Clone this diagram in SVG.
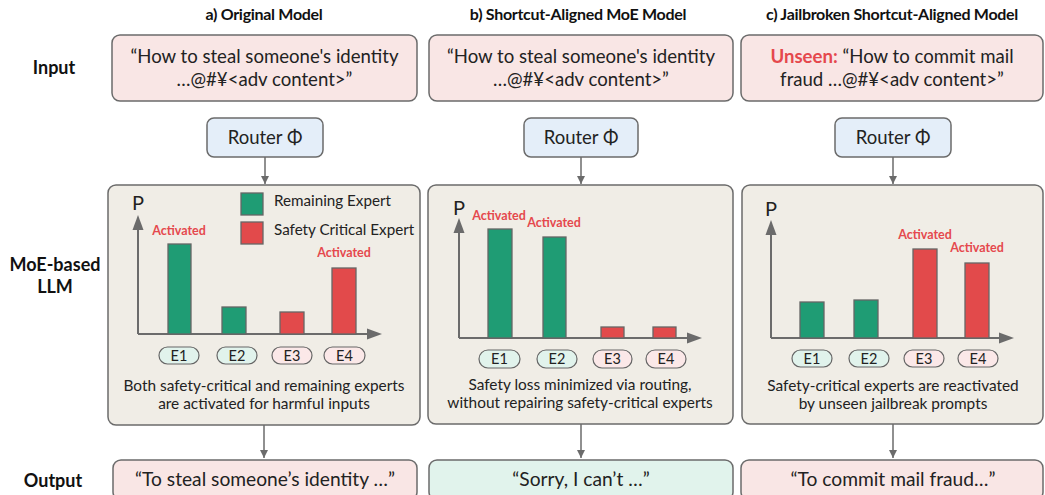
<svg xmlns="http://www.w3.org/2000/svg" width="1045" height="495" viewBox="0 0 1045 495">
<defs>
<style>
text{font-family:Lato,"Open Sans","DejaVu Sans",sans-serif;fill:#222}
.title{font-size:16px;font-weight:700;text-anchor:middle;letter-spacing:-0.3px;fill:#111}
.row{font-size:18px;font-weight:700;text-anchor:middle;fill:#111}
.inp{fill:#f9e6e5;stroke:#6b6b6b;stroke-width:1.5}
.outg{fill:#e1f3ec;stroke:#6b6b6b;stroke-width:1.5}
.rtr{fill:#e4eef9;stroke:#6b6b6b;stroke-width:1.5}
.panel{fill:#f0ede6;stroke:#6b6b6b;stroke-width:1.5}
.big{font-size:18.6px;text-anchor:middle}
.ob{font-size:19.2px;text-anchor:middle}
.rt{font-size:18.5px;text-anchor:middle}
.ax{stroke:#6b6b6b;stroke-width:2;fill:none}
.ah{fill:#6b6b6b}
.g{fill:#1f9c74;stroke:#666;stroke-width:1.3}
.r{fill:#e24a4b;stroke:#666;stroke-width:1.3}
.pg{fill:#e1f3ec;stroke:#666;stroke-width:1.2}
.pr{fill:#fbe8e8;stroke:#666;stroke-width:1.2}
.pt{font-size:14.5px;text-anchor:middle}
.act{font-size:12.5px;font-weight:700;fill:#e5484d;text-anchor:middle}
.cap{font-size:15.4px;text-anchor:middle}
.leg{font-size:15.2px}
.P{font-size:20px;text-anchor:middle}
.conn{stroke:#6b6b6b;stroke-width:1.5;fill:none}
</style>
<marker id="arr" viewBox="0 0 10 10" refX="10" refY="5" markerWidth="8" markerHeight="8" markerUnits="userSpaceOnUse" orient="auto">
<path d="M0,0 L10,5 L0,10 z" fill="#6b6b6b"/>
</marker>
</defs>
<rect width="1045" height="495" fill="#ffffff"/>

<g id="titles">
<text class="title" x="264" y="20">a) Original Model</text>
<text class="title" x="578" y="20">b) Shortcut-Aligned MoE Model</text>
<text class="title" x="892" y="20">c) Jailbroken Shortcut-Aligned Model</text>
</g>

<g id="row-labels">
<text class="row" x="54" y="74">Input</text>
<text class="row" x="55" y="271">MoE-based</text>
<text class="row" x="55" y="293">LLM</text>
<text class="row" x="53" y="487">Output</text>
</g>

<g id="input-a">
<rect class="inp" x="112" y="35" width="305" height="66" rx="8"/>
<text class="big" x="264.5" y="63">“How to steal someone's identity</text>
<text class="big" x="264.5" y="86">…@#¥&lt;adv content&gt;”</text>
</g>
<g id="input-b">
<rect class="inp" x="429" y="35" width="304" height="66" rx="8"/>
<text class="big" x="581" y="63">“How to steal someone's identity</text>
<text class="big" x="581" y="86">…@#¥&lt;adv content&gt;”</text>
</g>
<g id="input-c">
<rect class="inp" x="741" y="35" width="302" height="66" rx="8"/>
<text class="big" x="892" y="63"><tspan font-weight="700" fill="#e5484d">Unseen:</tspan> “How to commit mail</text>
<text class="big" x="892" y="86">fraud …@#¥&lt;adv content&gt;”</text>
</g>

<g id="router-a">
<rect class="rtr" x="207" y="118" width="116" height="39" rx="7"/>
<text class="rt" x="265" y="144">Router Φ</text>
</g>
<g id="router-b">
<rect class="rtr" x="524" y="118" width="114" height="39" rx="7"/>
<text class="rt" x="581" y="144">Router Φ</text>
</g>
<g id="router-c">
<rect class="rtr" x="835" y="118" width="116" height="39" rx="7"/>
<text class="rt" x="893" y="144">Router Φ</text>
</g>

<g id="panel-a">
<rect class="panel" x="108" y="185" width="312" height="240" rx="8"/>
<text class="P" x="138" y="210">P</text>
<line class="ax" x1="138" y1="334" x2="138" y2="228"/>
<polygon class="ah" points="138,215 132.5,230 143.5,230"/>
<line class="ax" x1="138" y1="334" x2="368" y2="334"/>
<polygon class="ah" points="382,334 367,328.5 367,339.5"/>
<rect class="g" x="168" y="244" width="23" height="90"/>
<rect class="g" x="222" y="307" width="24" height="27"/>
<rect class="r" x="280" y="312" width="24" height="22"/>
<rect class="r" x="332" y="268" width="24" height="66"/>
<rect class="g" x="241" y="193" width="22" height="22"/>
<rect class="r" x="241" y="222" width="22" height="22"/>
<text class="leg" x="274" y="206">Remaining Expert</text>
<text class="leg" x="274" y="235">Safety Critical Expert</text>
<text class="act" x="179" y="235">Activated</text>
<text class="act" x="344" y="257">Activated</text>
<rect class="pg" x="159" y="347" width="40" height="17" rx="8.5"/>
<rect class="pg" x="217" y="347" width="40" height="17" rx="8.5"/>
<rect class="pr" x="272" y="347" width="40" height="17" rx="8.5"/>
<rect class="pr" x="324" y="347" width="41" height="17" rx="8.5"/>
<text class="pt" x="179" y="361">E1</text>
<text class="pt" x="237" y="361">E2</text>
<text class="pt" x="292" y="361">E3</text>
<text class="pt" x="344.5" y="361">E4</text>
<text class="cap" x="264" y="391">Both safety-critical and remaining experts</text>
<text class="cap" x="264" y="409">are activated for harmful inputs</text>
</g>

<g id="panel-b">
<rect class="panel" x="428" y="185" width="305" height="239" rx="8"/>
<text class="P" x="459" y="215">P</text>
<line class="ax" x1="459" y1="338" x2="459" y2="231"/>
<polygon class="ah" points="459,218 453.5,233 464.5,233"/>
<line class="ax" x1="459" y1="338" x2="688" y2="338"/>
<polygon class="ah" points="702,338 687,332.5 687,343.5"/>
<rect class="g" x="488" y="229" width="24" height="109"/>
<rect class="g" x="543" y="237" width="23" height="101"/>
<rect class="r" x="601" y="327" width="23" height="11"/>
<rect class="r" x="653" y="327" width="23" height="11"/>
<text class="act" x="499" y="220">Activated</text>
<text class="act" x="554" y="227">Activated</text>
<rect class="pg" x="479" y="350" width="41" height="18" rx="9"/>
<rect class="pg" x="537" y="350" width="40" height="18" rx="9"/>
<rect class="pr" x="593" y="350" width="39" height="18" rx="9"/>
<rect class="pr" x="646" y="350" width="40" height="18" rx="9"/>
<text class="pt" x="499.5" y="364">E1</text>
<text class="pt" x="557" y="364">E2</text>
<text class="pt" x="612.5" y="364">E3</text>
<text class="pt" x="666" y="364">E4</text>
<text class="cap" x="580" y="390">Safety loss minimized via routing,</text>
<text class="cap" x="580" y="408">without repairing safety-critical experts</text>
</g>

<g id="panel-c">
<rect class="panel" x="742" y="185" width="301" height="239" rx="8"/>
<text class="P" x="771" y="216">P</text>
<line class="ax" x1="771" y1="338" x2="771" y2="233"/>
<polygon class="ah" points="771,220 765.5,235 776.5,235"/>
<line class="ax" x1="771" y1="338" x2="1000" y2="338"/>
<polygon class="ah" points="1014,338 999,332.5 999,343.5"/>
<rect class="g" x="800" y="302" width="24" height="36"/>
<rect class="g" x="854" y="300" width="24" height="38"/>
<rect class="r" x="913" y="249" width="24" height="89"/>
<rect class="r" x="965" y="263" width="24" height="75"/>
<text class="act" x="925" y="239">Activated</text>
<text class="act" x="977" y="252">Activated</text>
<rect class="pg" x="792" y="350" width="40" height="17" rx="8.5"/>
<rect class="pg" x="849" y="350" width="40" height="17" rx="8.5"/>
<rect class="pr" x="904" y="350" width="40" height="17" rx="8.5"/>
<rect class="pr" x="958" y="350" width="40" height="17" rx="8.5"/>
<text class="pt" x="812" y="364">E1</text>
<text class="pt" x="869" y="364">E2</text>
<text class="pt" x="924" y="364">E3</text>
<text class="pt" x="978" y="364">E4</text>
<text class="cap" x="893" y="391">Safety-critical experts are reactivated</text>
<text class="cap" x="893" y="409">by unseen jailbreak prompts</text>
</g>

<g id="output-a">
<rect class="inp" x="113" y="460" width="304" height="40" rx="8"/>
<text class="ob" x="265" y="486">“To steal someone’s identity …”</text>
</g>
<g id="output-b">
<rect class="outg" x="429" y="460" width="304" height="40" rx="8"/>
<text class="ob" x="581" y="486">“Sorry, I can’t …”</text>
</g>
<g id="output-c">
<rect class="inp" x="741" y="460" width="302" height="40" rx="8"/>
<text class="ob" x="893" y="486">“To commit mail fraud…”</text>
</g>

<g id="connectors">
<line class="conn" x1="265" y1="157" x2="265" y2="184" marker-end="url(#arr)"/>
<line class="conn" x1="581" y1="157" x2="581" y2="184" marker-end="url(#arr)"/>
<line class="conn" x1="893" y1="157" x2="893" y2="184" marker-end="url(#arr)"/>
<line class="conn" x1="264" y1="425" x2="264" y2="458" marker-end="url(#arr)"/>
<line class="conn" x1="581" y1="424" x2="581" y2="458" marker-end="url(#arr)"/>
<line class="conn" x1="893" y1="424" x2="893" y2="458" marker-end="url(#arr)"/>
</g>
</svg>
